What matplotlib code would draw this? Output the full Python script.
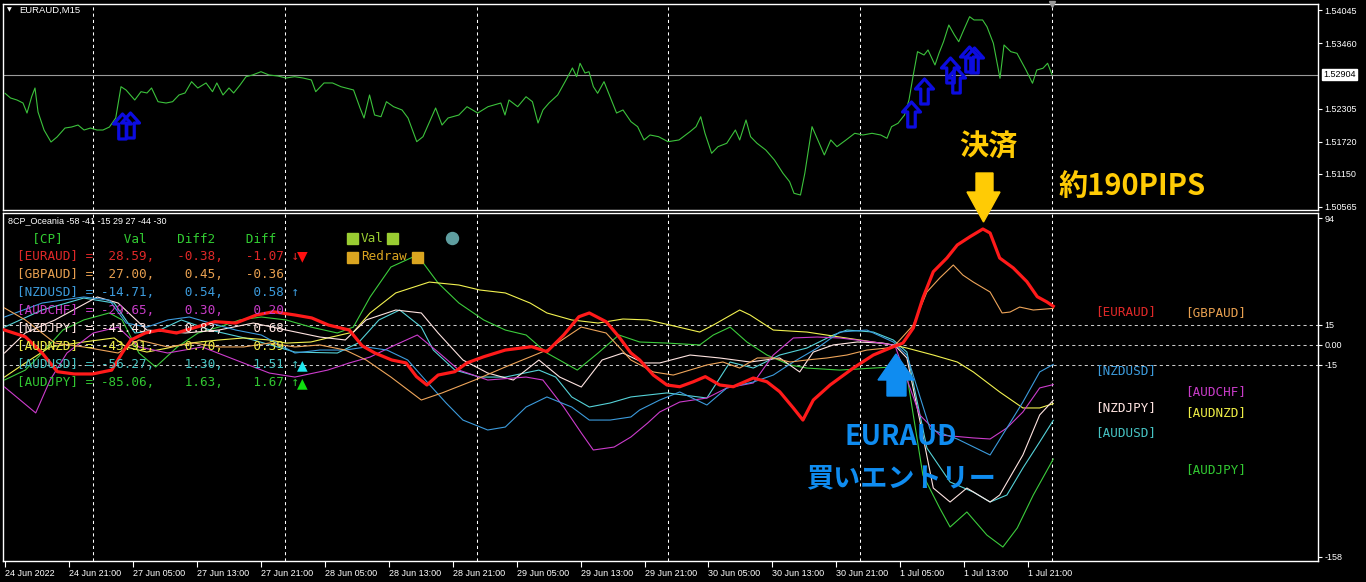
import matplotlib
matplotlib.use("Agg")
import matplotlib.pyplot as plt
from matplotlib.path import Path
from matplotlib.patches import Polygon, Rectangle, Ellipse

plt.rcParams['font.family'] = ['Liberation Sans', 'DejaVu Sans']

# ---------------- data ----------------
time_labels = ["24 Jun 2022", "24 Jun 21:00", "27 Jun 05:00", "27 Jun 13:00", "27 Jun 21:00",
               "28 Jun 05:00", "28 Jun 13:00", "28 Jun 21:00", "29 Jun 05:00", "29 Jun 13:00",
               "29 Jun 21:00", "30 Jun 05:00", "30 Jun 13:00", "30 Jun 21:00", "1 Jul 05:00",
               "1 Jul 13:00", "1 Jul 21:00"]
tick_hours = [0, 8, 16, 24, 32, 40, 48, 56, 64, 72, 80, 88, 96, 104, 112, 120, 128]
day_breaks = [11, 35, 59, 83, 107, 131]

price_ticks = [1.54045, 1.53460, 1.52305, 1.51720, 1.51150, 1.50565]
current_price = 1.52904

price_t = [0.06, 0.75, 1.56, 2.31, 2.81, 3.39, 3.81, 4.19, 4.94, 5.81, 6.56, 7.56, 8.38, 9.19, 9.94,
           10.75, 11.56, 12.31, 13.11, 13.9, 14.56, 15.19, 16.28, 17.06, 17.81, 18.38, 19.19, 20.19,
           21.01, 21.81, 22.56, 23.38, 24.16, 25.19, 26.0, 26.54, 27.31, 28.06, 28.64, 29.44, 30.19,
           31.0, 32.06, 33.06, 34.16, 35.19, 36.26, 37.31, 38.36, 38.9, 39.94, 41.0, 42.06, 43.63,
           44.44, 44.94, 45.63, 46.26, 47.06, 47.74, 48.63, 49.69, 50.44, 51.53, 52.31, 53.06, 53.89,
           54.69, 55.44, 56.79, 57.81, 59.15, 60.44, 62.04, 62.56, 63.06, 64.15, 65.19, 65.99, 66.69,
           67.31, 68.06, 69.15, 70.19, 70.99, 71.51, 71.94, 72.56, 73.06, 73.61, 74.14, 74.94, 75.69,
           76.51, 77.31, 78.31, 79.14, 79.94, 80.69, 81.76,
           82.94, 84.31, 85.69, 86.44, 87.03, 87.56, 88.39, 89.19, 90.28, 91.36, 91.9, 92.69, 93.26,
           94.06, 95.16, 96.24, 97.31, 98.14, 98.69, 99.5, 100.04, 100.56, 100.94, 101.66, 102.48,
           103.29, 104.06, 105.19, 106.28, 107.31, 108.44, 109.53, 110.31, 110.88, 111.69, 112.5,
           113.06, 113.56, 114.13, 114.94, 115.44, 116.31, 116.81, 117.38, 118.04, 118.74, 119.28,
           119.81, 120.64, 121.19, 122.26, 122.81, 123.61, 124.44, 124.94, 125.79, 126.56, 127.69,
           128.5, 129.04, 129.81, 130.39, 130.94]
price_v = [1.52574, 1.52491, 1.52455, 1.52402, 1.52225, 1.52513, 1.52667, 1.52243, 1.51925, 1.51713,
           1.51801, 1.51960, 1.51978, 1.52013, 1.51925, 1.51960, 1.51925, 1.51925, 1.51978, 1.52137,
           1.52690, 1.52632, 1.52455, 1.52602, 1.52579, 1.52667, 1.52425, 1.52402, 1.52425, 1.52544,
           1.52579, 1.52779, 1.52667, 1.52756, 1.52602, 1.52756, 1.52544, 1.52667, 1.52579, 1.52720,
           1.52867, 1.52897, 1.52955, 1.52897, 1.52879, 1.52844, 1.52867, 1.52844, 1.52809, 1.52602,
           1.52756, 1.52756, 1.52690, 1.52632, 1.52314, 1.52137, 1.52544, 1.52190, 1.52160, 1.52425,
           1.52337, 1.52279, 1.52137, 1.51719, 1.51807, 1.52049, 1.52314, 1.52013, 1.52137, 1.52190,
           1.52337, 1.52225, 1.52337, 1.52402, 1.52190, 1.52455, 1.52337, 1.52513, 1.52425, 1.52049,
           1.52279, 1.52402, 1.52544, 1.52809, 1.53021, 1.52867, 1.53104, 1.52932, 1.52955, 1.52690,
           1.52574, 1.52779, 1.52513, 1.52225, 1.52279, 1.52072, 1.51984, 1.51749, 1.51837, 1.51807,
           1.51719, 1.51749, 1.51896, 1.51984, 1.52160, 1.51867, 1.51514, 1.51631, 1.51691, 1.51925,
           1.51749, 1.52102, 1.51807, 1.51691, 1.51572, 1.51396, 1.51161, 1.51012, 1.50807, 1.50777,
           1.51161, 1.51631, 1.51984, 1.51749, 1.51484, 1.51749, 1.51631, 1.51749, 1.51867, 1.51837,
           1.51867, 1.51837, 1.51779, 1.51984, 1.52044, 1.52190, 1.52455, 1.52867, 1.53309, 1.53250,
           1.53339, 1.53074, 1.53280, 1.53485, 1.53780, 1.53604, 1.53485, 1.53662, 1.53927, 1.53869,
           1.53869, 1.53750, 1.53457, 1.52839, 1.53427, 1.53309, 1.53280, 1.52985, 1.52751, 1.52985,
           1.53016, 1.53104, 1.52904]

sig_t = [14.69, 15.69, 113.3, 114.9, 118.2, 118.9, 120.6, 121.2]
sig_p = [1.51996, 1.52014, 1.52208, 1.52614, 1.52985, 1.52808, 1.53171, 1.53162]

osc_ticks = [94, 15, 0, -15, -158]
osc_tick_labels = ["94", "15", "0.00", "-15", "-158"]
osc_levels = [15, 0, -15]

euraud_t = [0, 2.6, 4.7, 6.6, 8.7, 11.0, 13.4, 14.7, 15.8, 17.6, 19.4, 21.5, 23.6, 26.3, 28.9, 31.5,
            33.6, 36.3, 38.4, 40.5, 43.1, 44.7, 46.3, 48.4, 50.2, 51.5, 52.8, 54.2, 56.3, 57.8, 59.9,
            62.6, 65.9, 67.8, 69.9, 71.8, 73.1, 75.2, 76.8, 78.3, 79.4, 81.1, 82.8, 84.4, 86.1, 87.6,
            89.4, 91.1, 93.6, 95.3, 96.9, 98.6, 99.8, 101.1, 103.2, 106.1, 108.6, 110.7, 112.3, 113.6,
            114.8, 116.1, 117.8, 119.1, 120.7, 122.3, 123.2, 124.4, 126.1, 127.8, 129.1, 130.3, 131.1]
euraud_v = [10.9, 5.9, -6.2, -20.1, -21.8, -21.8, -18.9, -6.2, 3.5, 8.7, 10.9, 8.7, 12.4, 17.1, 16.1,
            22.1, 24.5, 22.1, 19.9, 14.6, 10.9, -0.8, -6.2, -11.4, -13.6, -23.8, -30.0, -22.6, -20.1,
            -13.6, -9.0, -4.0, -1.5, -5.2, 7.2, 20.8, 23.6, 17.1, 5.9, -6.2, -11.4, -22.6, -30.0, -31.3,
            -27.6, -23.8, -30.0, -31.3, -24.8, -27.6, -35.0, -47.1, -56.1, -41.2, -30.0, -17.4, -7.7,
            -2.5, 1.2, 12.4, 34.7, 54.3, 64.5, 74.2, 80.4, 86.1, 83.1, 64.5, 57.1, 46.9, 35.7, 31.8, 28.6]

gbpaud_t = [0, 2.6, 6.3, 9.9, 14.2, 16.8, 20.4, 23.7, 26.8, 29.9, 33.1, 36.3, 39.4, 42.6, 45.2, 48.3,
            52.1, 54.7, 58.8, 62.6, 67.8, 72.1, 75.2, 78.3, 81.1, 83.6, 87.8, 89.8, 91.9, 94.1, 96.1,
            98.2, 100.3, 102.8, 105.3, 107.8, 110.3, 111.3, 113.6, 115.3, 116.9, 118.6, 119.8, 121.1,
            123.2, 124.7, 125.7, 126.9, 128.6, 131.1]
gbpaud_v = [27.3, 18.4, 1.2, -1.7, -6.2, 3.5, -1.7, 1.2, -1.7, -1.7, 1.2, -1.7, -0.2, -4.0, -11.4,
            -24.1, -41.2, -35.9, -26.3, -16.6, -4.0, 13.1, 8.7, -11.4, -20.3, -22.6, -15.1, -12.9,
            -17.4, -9.9, -9.9, -12.9, -11.4, -9.9, -7.7, -4.0, -2.5, -0.5, 14.6, 39.2, 49.6, 59.3,
            51.8, 46.6, 39.2, 23.6, 24.3, 28.0, 25.8, 27.0]

nzdusd_t = [0, 4.7, 9.9, 13.1, 15.2, 17.8, 20.4, 23.1, 25.7, 28.9, 32.1, 36.3, 39.4, 42.6, 45.2, 47.8,
            50.4, 52.6, 55.2, 57.3, 60.4, 62.6, 65.2, 67.8, 70.9, 73.1, 75.7, 78.3, 79.4, 81.9, 84.4,
            87.8, 90.3, 93.6, 96.1, 98.6, 101.6, 104.4, 107.8, 111.1, 112.8, 115.7, 119.1, 123.2,
            125.3, 127.3, 129.4, 131.1]
nzdusd_v = [20.6, 31.0, 35.5, 33.2, 16.1, 13.1, 18.4, 20.6, 16.1, 10.9, 7.2, -6.2, -4.0, -4.0, -1.7,
            -4.0, -11.4, -26.3, -43.4, -56.1, -63.5, -61.3, -46.4, -38.9, -46.4, -56.1, -56.1, -53.8,
            -48.6, -41.2, -35.2, -44.9, -32.2, -27.8, -22.6, -12.9, -2.5, 9.4, 10.9, 2.0, -7.7, -62.8,
            -70.2, -82.1, -62.0, -42.7, -20.3, -14.7]

audchf_t = [0, 3.9, 5.7, 7.8, 11.1, 14.2, 16.8, 20.4, 24.7, 28.9, 33.1, 36.3, 40.4, 43.1, 45.7, 48.3,
            51.6, 54.2, 56.8, 60.4, 65.2, 67.3, 69.9, 72.1, 73.6, 76.2, 78.3, 80.4, 81.9, 84.4, 87.8,
            90.3, 93.6, 96.1, 98.6, 101.6, 104.4, 108.6, 111.3, 114.4, 116.9, 121.1, 123.2, 125.3,
            127.3, 129.4, 131.1]
audchf_v = [-31.5, -50.8, -26.3, -6.2, 8.7, 13.1, -1.7, -6.2, -1.7, -11.4, -21.1, -24.1, -18.9, -13.6,
            -9.2, -1.7, 7.2, -5.5, -18.9, -26.3, -24.1, -26.3, -46.4, -65.7, -78.4, -76.2, -68.7,
            -58.3, -50.1, -42.7, -39.7, -32.2, -28.5, -7.7, 5.0, 5.7, 5.0, 2.0, -0.5, -52.3, -67.2,
            -69.4, -70.2, -62.0, -50.1, -32.2, -29.7]

nzdjpy_t = [0, 2.6, 6.3, 11.6, 14.2, 17.8, 22.6, 26.8, 31.1, 35.2, 39.4, 42.6, 45.2, 48.9, 52.1, 54.2,
            57.3, 60.4, 63.6, 66.8, 69.4, 72.1, 74.7, 77.3, 79.9, 81.9, 85.7, 89.4, 93.2, 96.9, 99.4,
            101.1, 103.6, 106.6, 109.8, 111.3, 112.8, 114.4, 116.1, 118.2, 120.3, 123.2, 124.4, 127.3,
            129.4, 131.1]
nzdjpy_v = [-6.2, 8.7, 18.4, 35.5, 31.0, 10.9, 8.7, 10.9, 16.1, 10.9, 5.7, 3.5, 18.4, 25.8, 23.6, 8.7,
            -11.4, -21.1, -26.3, -11.4, -24.1, -31.5, -11.4, -6.2, -13.6, -13.6, -7.7, -9.9, -12.9,
            -9.9, -20.3, -5.5, -0.2, 2.0, 1.2, -0.5, -9.9, -56.0, -106.7, -117.1, -106.7, -117.1,
            -111.9, -82.1, -52.3, -41.4]

audnzd_t = [0, 2.6, 5.7, 9.9, 13.7, 15.2, 17.8, 20.4, 23.1, 26.8, 29.9, 33.1, 35.2, 38.3, 40.9, 43.6,
            45.7, 48.9, 53.1, 56.8, 59.4, 62.6, 65.7, 67.8, 70.9, 74.2, 77.3, 80.4, 83.2, 86.9, 88.6,
            91.9, 93.2, 96.1, 100.3, 104.4, 108.6, 111.3, 112.8, 116.1, 119.1, 121.1, 124.4, 127.3,
            129.4, 131.1]
audnzd_v = [-24.1, -13.6, -1.7, 2.0, 5.0, -1.7, -5.5, -2.5, 1.2, 3.5, 5.0, 3.5, 1.2, 2.0, 5.7, 9.4,
            23.6, 38.5, 46.6, 44.4, 40.7, 38.5, 31.0, 23.6, 18.4, 16.1, 19.1, 18.4, 14.6, 9.4, 14.6,
            25.8, 22.1, 10.9, 9.4, 5.7, 2.0, -0.5, -2.5, -7.7, -12.9, -20.3, -35.2, -47.1, -47.1, -43.9]

audusd_t = [0, 4.7, 9.9, 13.7, 16.3, 19.4, 22.1, 25.7, 31.1, 36.3, 41.6, 44.2, 46.8, 49.4, 52.1, 53.6,
            56.3, 59.4, 62.6, 66.8, 68.9, 70.9, 73.1, 75.7, 78.3, 82.8, 87.8, 90.7, 93.6, 96.9, 100.3,
            103.6, 105.3, 108.6, 111.1, 112.8, 115.3, 118.2, 121.1, 123.2, 125.3, 127.3, 129.4, 131.1]
audusd_v = [13.1, 25.8, 34.7, 31.0, 8.7, 10.9, 18.4, 10.9, 3.5, -5.5, -6.2, 1.2, 18.4, 25.8, 13.1,
            -4.0, -18.9, -24.1, -24.1, -18.9, -24.1, -38.9, -46.4, -43.4, -38.9, -35.9, -39.7, -12.9,
            -17.4, -7.7, -2.5, 7.2, 10.9, 9.4, 3.5, -5.5, -76.9, -102.2, -109.7, -117.1, -111.9,
            -91.8, -72.4, -56.3]

audjpy_t = [0, 2.6, 4.7, 7.3, 9.9, 13.1, 14.7, 16.8, 18.9, 21.6, 24.2, 26.8, 29.4, 32.1, 35.2, 38.3,
            41.6, 43.6, 45.7, 48.3, 51.6, 54.2, 56.8, 59.9, 62.6, 65.2, 67.8, 71.6, 74.2, 76.8, 79.4,
            82.8, 86.9, 88.6, 90.7, 92.8, 95.3, 98.2, 100.3, 104.4, 108.6, 111.1, 112.8, 114.8, 116.9,
            118.2, 120.3, 122.8, 124.8, 126.6, 128.6, 131.1]
audjpy_v = [-26.3, -18.9, -6.2, 10.9, 18.4, 23.6, 18.4, -6.2, -16.6, -1.7, 8.7, 13.1, 18.4, 20.6, 18.4,
            13.1, 8.7, 13.1, 35.5, 57.8, 66.7, 45.9, 31.0, 18.4, 10.9, 7.2, -6.2, -18.9, -6.2, 7.2, 2.0,
            1.2, -0.2, 7.2, 13.1, 2.0, -7.7, -15.1, -17.4, -18.9, -17.4, -16.6, -22.6, -97.0, -121.6,
            -135.7, -124.5, -141.7, -150.6, -136.4, -111.9, -85.1]

pairs = ["EURAUD", "GBPAUD", "NZDUSD", "AUDCHF", "NZDJPY", "AUDNZD", "AUDUSD", "AUDJPY"]
pair_val = [28.59, 27.00, -14.71, -29.65, -41.43, -43.91, -56.27, -85.06]
pair_diff2 = [-0.38, 0.45, 0.54, 0.30, 0.82, 0.70, 1.30, 1.63]
pair_diff = [-1.07, -0.36, 0.58, 0.20, 0.68, 0.39, 1.51, 1.67]
pair_dir = ["↓", "", "↑", "", "", "", "↑", "↑"]
title_vals = [-58, -41, -15, 29, 27, -44, -30]

line_colors = ["#ff1a1a", "#eea55a", "#3c9bdc", "#cc3ccc", "#ffe4e1", "#f2f250", "#55d2d8", "#3ccc3c"]
text_colors = ["#e02828", "#e8a050", "#3c9bdc", "#c83cc8", "#ffe4e1", "#eeee46", "#46c3c3", "#32c832"]

# ---------------- figure ----------------
W, H = 1366, 582
fig = plt.figure(figsize=(W / 100, H / 100), dpi=100, facecolor="black")


def fx(px):
    return px / W


def fy(py):
    return 1 - py / H


ax1 = fig.add_axes([fx(3), fy(210), (1318 - 3) / W, (210 - 4) / H])
ax2 = fig.add_axes([fx(3), fy(561), (1318 - 3) / W, (561 - 213) / H])

for ax in (ax1, ax2):
    ax.set_facecolor("black")
    for sp in ax.spines.values():
        sp.set_color("white")
        sp.set_linewidth(1.0)
    ax.set_xlim(-0.19, 164.19)
    ax.yaxis.tick_right()
    ax.tick_params(axis="y", colors="white", labelsize=6.5, length=3, width=0.8, pad=1.5)
    for d in day_breaks:
        ax.axvline(d, color="white", lw=0.75, ls=(0, (3, 3)), zorder=1)

ax1.set_ylim(1.50512, 1.54151)
ax2.set_ylim(-161.0, 98.0)

# top: price
ax1.axhline(current_price, color="#9a9a9a", lw=0.8, zorder=1)
ax1.plot(price_t, price_v, color="#3cc23c", lw=0.8, zorder=3)
ax1.set_yticks(price_ticks)
ax1.set_yticklabels([f"{p:.5f}" for p in price_ticks])
ax1.tick_params(axis="x", bottom=False, labelbottom=False)
ax1.annotate(f"{current_price:.5f}", xy=(1.0, current_price), xycoords=("axes fraction", "data"),
             xytext=(3.5, 0), textcoords="offset points", ha="left", va="center",
             fontsize=6.5, color="black",
             bbox=dict(boxstyle="square,pad=0.15", fc="white", ec="white"))

arrow_verts = [(0, 1), (0.72, 0.2), (0.3, 0.2), (0.3, -1), (-0.3, -1), (-0.3, 0.2), (-0.72, 0.2), (0, 1)]
arrow_codes = [Path.MOVETO] + [Path.LINETO] * 6 + [Path.CLOSEPOLY]
arrow_marker = Path(arrow_verts, arrow_codes)
ax1.plot(sig_t, sig_p, ls="none", marker=arrow_marker, ms=18, mfc="none", mec="#0c0ce0", mew=2.3, zorder=4)
ax1.plot([day_breaks[-1]], [1.54151], marker="v", color="#9a9a9a", ms=5, clip_on=False, zorder=5)

# bottom: oscillator
for lv in osc_levels:
    ax2.axhline(lv, color="#c8c8c8", lw=0.75, ls=(0, (3, 3)), zorder=1)

series_t = [euraud_t, gbpaud_t, nzdusd_t, audchf_t, nzdjpy_t, audnzd_t, audusd_t, audjpy_t]
series_v = [euraud_v, gbpaud_v, nzdusd_v, audchf_v, nzdjpy_v, audnzd_v, audusd_v, audjpy_v]
for i in range(len(pairs) - 1, -1, -1):
    lw = 2.3 if i == 0 else 0.8
    ax2.plot(series_t[i], series_v[i], color=line_colors[i], lw=lw, zorder=5 if i == 0 else 3)

ax2.set_yticks(osc_ticks)
ax2.set_yticklabels(osc_tick_labels)
ax2.set_xticks(tick_hours)
ax2.set_xticklabels(time_labels, ha="left")
ax2.tick_params(axis="x", colors="white", labelsize=6.5, length=4, width=0.8, pad=2)

# ---------------- texts ----------------
mono = "DejaVu Sans Mono"
fig.text(fx(7), fy(10), "▼", color="white", fontsize=4.5, va="center", family="DejaVu Sans")
fig.text(fx(19), fy(10), "EURAUD,M15", color="white", fontsize=6.8, va="center")
fig.text(fx(8), fy(221), "8CP_Oceania " + " ".join(str(v) for v in title_vals),
         color="white", fontsize=6.5, va="center")

header = "  [CP]" + " " * 8 + "Val" + " " * 4 + "Diff2" + " " * 4 + "Diff"
fig.text(fx(16.8), fy(239), header, color="#32cd32", fontsize=9.1, family=mono, va="center")
row_y = [256.7, 274.5, 292.3, 310.2, 328.2, 346.4, 364.6, 382.8]
for i, name in enumerate(pairs):
    s = f"[{name}] = {pair_val[i]:6.2f},  {pair_diff2[i]:6.2f},  {pair_diff[i]:6.2f}"
    if pair_dir[i]:
        s += " " + pair_dir[i]
    fig.text(fx(16.8), fy(row_y[i]), s, color=text_colors[i], fontsize=9.1, family=mono, va="center")

fig.text(fx(302), fy(256), "▼", color="#ff1010", fontsize=10, ha="center", va="center", family="DejaVu Sans")
fig.text(fx(302), fy(365), "▲", color="#20e8f0", fontsize=10, ha="center", va="center", family="DejaVu Sans")
fig.text(fx(302), fy(383), "▲", color="#10e010", fontsize=10, ha="center", va="center", family="DejaVu Sans")

# legend-like items
for (x0, y0, c) in [(347, 244, "#9acd32"), (387, 244, "#9acd32"), (347, 263, "#daa520"), (412, 263, "#daa520")]:
    fig.add_artist(Rectangle((fx(x0), fy(y0)), 11 / W, 11 / H, transform=fig.transFigure, color=c))
fig.text(fx(361), fy(239), "Val", color="#9acd32", fontsize=9.1, family=mono, va="center")
fig.text(fx(361), fy(257), "Redraw", color="#daa520", fontsize=9.1, family=mono, va="center")
fig.add_artist(Ellipse((fx(452.5), fy(238.5)), 12 / W, 12 / H, transform=fig.transFigure, color="#5f9ea0"))

# right-side pair labels
label_pos = [(1095, 312), (1185, 313), (1095, 371), (1185, 392), (1095, 408), (1185, 412.5),
             (1095, 433), (1185, 469.5)]
for i, name in enumerate(pairs):
    fig.text(fx(label_pos[i][0]), fy(label_pos[i][1]), f"[{name}]", color=text_colors[i],
             fontsize=9.1, family=mono, va="center")

# annotations
cjk = ["Noto Sans CJK JP", "DejaVu Sans"]
gold = "#ffcb05"
blue = "#0f8cf0"
fig.text(fx(988), fy(147), "決済", color=gold, fontsize=21, fontweight="bold", family=cjk,
         ha="center", va="center")
fig.text(fx(1059), fy(186), "約190PIPS", color=gold, fontsize=21, fontweight="bold", family=cjk,
         ha="left", va="center")
fig.text(fx(901), fy(437), "EURAUD", color=blue, fontsize=19.5, fontweight="bold", family=cjk,
         ha="center", va="center")
fig.text(fx(901), fy(478), "買いエントリー", color=blue, fontsize=19.5, fontweight="bold", family=cjk,
         ha="center", va="center")


def poly(points, color):
    pts = [(fx(x), fy(y)) for x, y in points]
    fig.add_artist(Polygon(pts, closed=True, transform=fig.transFigure, color=color, zorder=10))


poly([(896, 354), (914, 380), (906, 380), (906, 396), (887, 396), (887, 380), (878, 380)], blue)
poly([(976, 173), (993, 173), (993, 192), (1000, 192), (983.5, 222), (967, 192), (976, 192)], gold)

fig.savefig("out.png", dpi=100, facecolor="black")
